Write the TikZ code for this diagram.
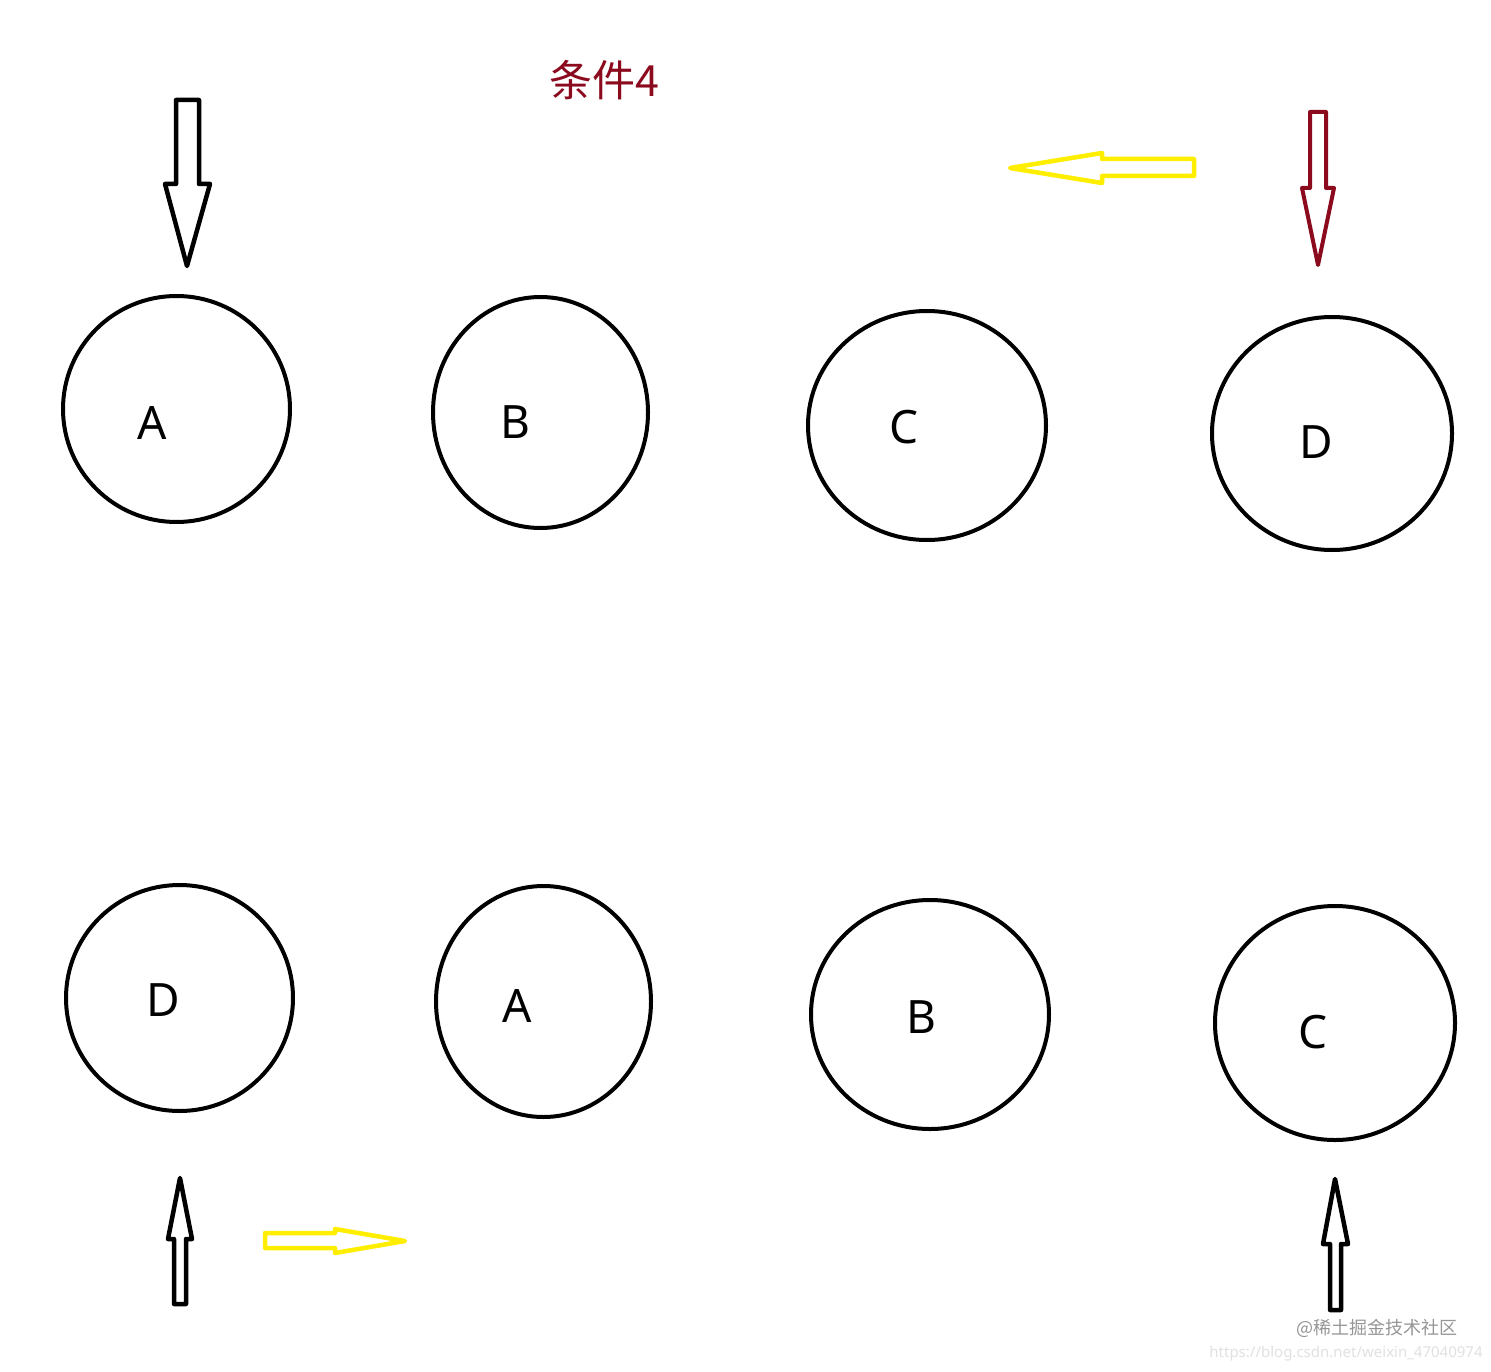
\documentclass[tikz,border=0pt]{standalone}
\usepackage{fontspec}
\setmainfont{Noto Sans}
\newfontfamily\cjkfont{Noto Sans CJK SC}
\usetikzlibrary{shapes.geometric}
\definecolor{darkred}{RGB}{139,10,30}
\definecolor{brightyellow}{RGB}{255,238,0}
\definecolor{wmgray}{RGB}{150,150,150}
\definecolor{urlgray}{RGB}{225,225,225}
\tikzset{
  ring/.style={ellipse, draw=black, line width=4pt, inner sep=0pt, minimum width=#1},
  lbl/.style={font=\fontsize{46}{54}\selectfont, inner sep=0pt, anchor=center},
  blockarrow/.style={line width=4.5pt, line join=round, line cap=round},
}
\begin{document}
\begin{tikzpicture}[x=1pt,y=-1pt]
\useasboundingbox[fill=white] (0,0) rectangle (1491,1372);

% title
\node[text=darkred, font=\cjkfont\fontsize{43}{50}\selectfont, inner sep=0pt] (title) at (604,80) {条件4};

% top row circles
\node[ring=227pt, minimum height=226pt] (tA) at (176.5,409) {};
\node[ring=215pt, minimum height=231pt] (tB) at (540.5,412.5) {};
\node[ring=238pt, minimum height=229pt] (tC) at (927,425.5) {};
\node[ring=240pt, minimum height=233pt] (tD) at (1332,433.5) {};
\node[lbl] (tAl) at (152,423) {A};
\node[lbl] (tBl) at (515,422) {B};
\node[lbl] (tCl) at (904,427) {C};
\node[lbl] (tDl) at (1316,442) {D};

% bottom row circles
\node[ring=227pt, minimum height=226pt] (bD) at (179.5,998) {};
\node[ring=215pt, minimum height=231pt] (bA) at (543.5,1001.5) {};
\node[ring=238pt, minimum height=229pt] (bB) at (930,1014.5) {};
\node[ring=240pt, minimum height=234pt] (bC) at (1335,1023) {};
\node[lbl] (bDl) at (163,1000) {D};
\node[lbl] (bAl) at (517,1006) {A};
\node[lbl] (bBl) at (921,1017) {B};
\node[lbl] (bCl) at (1313,1032) {C};

% black down arrow (top left)
\draw[blockarrow, draw=black] (176,100) -- (199,100) -- (199,184) -- (210,184)
  -- (187,266) -- (165,184) -- (176,184) -- cycle;

% red down arrow (top right)
\draw[blockarrow, draw=darkred, line width=4pt] (1310,112) -- (1326,112) -- (1326,188) -- (1334,188)
  -- (1318,265) -- (1302,188) -- (1310,188) -- cycle;

% yellow left arrow (top)
\draw[blockarrow, draw=brightyellow] (1194,159) -- (1102,159) -- (1102,153)
  -- (1010,168) -- (1102,183) -- (1102,176) -- (1194,176) -- cycle;

% black up arrow (bottom left)
\draw[blockarrow, draw=black] (174,1304) -- (186,1304) -- (186,1239) -- (192,1239)
  -- (180,1178) -- (168,1239) -- (174,1239) -- cycle;

% yellow right arrow (bottom)
\draw[blockarrow, draw=brightyellow] (265,1233) -- (335,1233) -- (335,1229)
  -- (405,1241) -- (335,1253) -- (335,1248) -- (265,1248) -- cycle;

% black up arrow (bottom right)
\draw[blockarrow, draw=black] (1330,1310) -- (1341,1310) -- (1341,1244) -- (1348,1244)
  -- (1335,1179) -- (1323,1244) -- (1330,1244) -- cycle;

% watermarks
\node[text=wmgray, font=\cjkfont\fontsize{18}{22}\selectfont, inner sep=0pt] (wm1) at (1377,1328) {@稀土掘金技术社区};
\node[text=urlgray, font=\fontsize{15}{18}\selectfont, inner sep=0pt] (wm2) at (1346,1354) {https://blog.csdn.net/weixin\_47040974};
\end{tikzpicture}
\end{document}
